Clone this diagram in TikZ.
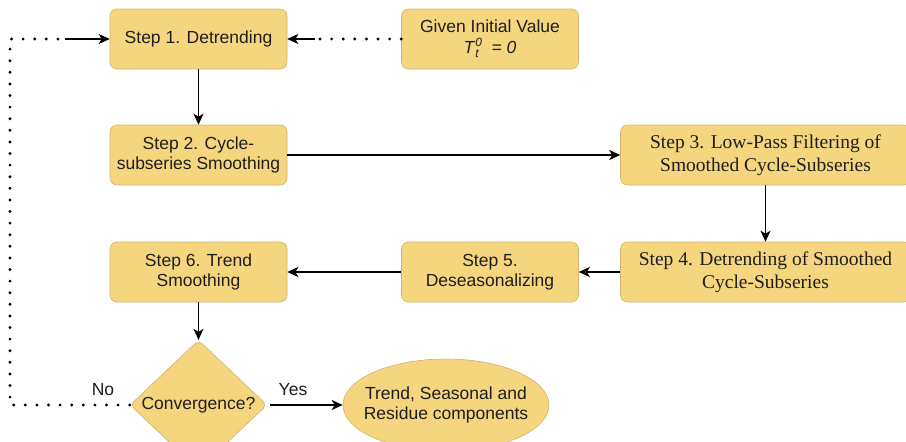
\documentclass[tikz,border=0pt]{standalone}
\usepackage{fontspec}
\setmainfont{Liberation Sans}
\newfontfamily\serifbox{Liberation Serif}
\usetikzlibrary{shapes.geometric,arrows.meta}
\definecolor{boxfill}{RGB}{246,213,127}
\definecolor{boxline}{RGB}{205,180,110}
\definecolor{txt}{RGB}{30,30,30}
\tikzset{
  stepbox/.style={draw=boxline, line width=0.6pt, fill=boxfill, rounded corners=7pt,
    minimum width=177pt, minimum height=60pt, align=center, inner sep=2pt, text=txt,
    font=\fontsize{17.5}{20}\selectfont},
  widebox/.style={stepbox, minimum width=290pt, font=\serifbox\fontsize{19.5}{23}\selectfont},
  decision/.style={diamond, draw=boxline, line width=0.6pt, fill=boxfill, rounded corners=5pt,
    minimum width=137pt, minimum height=86pt, inner sep=0pt, text=txt, font=\fontsize{17.5}{20}\selectfont},
  endnode/.style={ellipse, draw=boxline, line width=0.6pt, fill=boxfill,
    minimum width=206pt, minimum height=92pt, inner sep=-14pt, align=center, text=txt,
    font=\fontsize{17.5}{20}\selectfont},
  arr/.style={line width=1.5pt, -{Stealth[length=11pt,width=10pt,inset=3pt]}},
  dots/.style={line width=3.2pt, line cap=round, dash pattern=on 0pt off 11.6pt},
  lbl/.style={font=\fontsize{17.5}{20}\selectfont, inner sep=0pt, text=txt}
}
\begin{document}
\begin{tikzpicture}[x=1pt,y=-1pt]
\useasboundingbox (0,0) rectangle (906,442);
\node[stepbox] (s1) at (198.5,39) {Step 1. Detrending};
\node[stepbox] (g) at (490,39) {Given Initial Value\\[1pt]
  \textit{T}\rlap{\raisebox{-0.45ex}{\fontsize{12}{12}\selectfont\itshape t}}\raisebox{0.75ex}{\fontsize{12}{12}\selectfont\itshape 0}\ \ \textit{= 0}};
\node[stepbox] (s2) at (198.5,155) {Step 2. Cycle-\\subseries Smoothing};
\node[widebox] (s3) at (765.5,155) {Step 3. Low-Pass Filtering of\\Smoothed Cycle-Subseries};
\node[widebox] (s4) at (765.5,272) {Step 4. Detrending of Smoothed\\Cycle-Subseries};
\node[stepbox] (s5) at (490,272) {Step 5.\\Deseasonalizing};
\node[stepbox] (s6) at (198.5,272) {Step 6. Trend\\Smoothing};
\node[decision] (c) at (198.5,405) {Convergence?};
\node[endnode] (e) at (446,405) {Trend, Seasonal and\\Residue components};

\draw[arr] (s1) -- (s2);
\draw[arr] (s2) -- (s3);
\draw[arr] (s3) -- (s4);
\draw[arr] (s4) -- (s5);
\draw[arr] (s5) -- (s6);
\draw[arr] (s6) -- (c);
\draw[arr] (c.east) ++(3,0) coordinate (ye) -- (e.west);
\node[lbl] (yes) at (293,390) {Yes};
\node[lbl] (no) at (103,390) {No};

\coordinate (l1) at (10,405);
\coordinate (l2) at (10,39);
\coordinate (l3) at (65,39);
\coordinate (r1) at (315,39);
\draw[dots] (c.west) -- (l1) -- (l2) -- (l3);
\draw[arr] (l3) -- (s1.west);
\draw[dots] (g.west) -- (r1);
\draw[arr] (r1) -- (s1.east);
\end{tikzpicture}
\end{document}
